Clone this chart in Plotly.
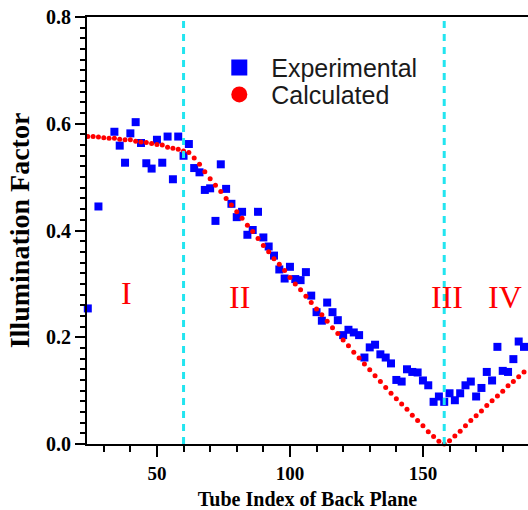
"""Illumination factor along the back plane: experiment vs calculation."""

import plotly.graph_objects as go

# experimental points (tube index, illumination factor)
exp_index = [24, 28, 34, 36, 38, 40, 42, 44, 46, 48, 50, 52, 54, 56, 58, 60,
             62, 64, 66, 68, 70, 72, 74, 76, 78, 80, 82, 84, 86, 88, 90, 92,
             94, 96, 98, 100, 102, 104, 106, 108, 110, 112, 114, 116, 118, 120,
             122, 124, 126, 128, 130, 132, 134, 136, 138, 140, 142, 144, 146,
             148, 150, 152, 154, 156, 158, 160, 162, 164, 166, 168, 170, 172,
             174, 176, 178, 180, 182, 184, 186, 188, 190]
exp_factor = [0.254, 0.445, 0.585, 0.559, 0.527, 0.582, 0.603, 0.564, 0.526,
              0.516, 0.570, 0.527, 0.576, 0.496, 0.576, 0.540, 0.562, 0.517,
              0.509, 0.476, 0.479, 0.418, 0.524, 0.478, 0.450, 0.425, 0.435,
              0.392, 0.401, 0.435, 0.387, 0.370, 0.353, 0.327, 0.310, 0.332,
              0.309, 0.307, 0.322, 0.278, 0.247, 0.231, 0.265, 0.247, 0.232,
              0.204, 0.214, 0.209, 0.204, 0.162, 0.181, 0.186, 0.168, 0.162,
              0.151, 0.120, 0.117, 0.140, 0.135, 0.134, 0.119, 0.110, 0.079,
              0.089, 0.079, 0.095, 0.082, 0.095, 0.110, 0.117, 0.089, 0.105,
              0.135, 0.119, 0.182, 0.137, 0.135, 0.159, 0.192, 0.182, 0.200]

# calculated curve
calc_index = [24, 26, 28, 30, 32, 34, 36, 38, 40, 42, 44, 46, 48, 50, 52, 54,
              56, 58, 60, 62, 64, 66, 68, 70, 72, 74, 76, 78, 80, 82, 84, 86,
              88, 90, 92, 94, 96, 98, 100, 102, 104, 106, 108, 110, 112, 114,
              116, 118, 120, 122, 124, 126, 128, 130, 132, 134, 136, 138, 140,
              142, 144, 146, 148, 150, 152, 154, 156, 158, 160, 162, 164, 166,
              168, 170, 172, 174, 176, 178, 180, 182, 184, 186, 188, 190]
calc_factor = [0.576, 0.576, 0.575, 0.574, 0.573, 0.573, 0.571, 0.570, 0.570,
               0.567, 0.566, 0.565, 0.563, 0.561, 0.560, 0.556, 0.554, 0.552,
               0.549, 0.546, 0.536, 0.524, 0.510, 0.497, 0.485, 0.473, 0.460,
               0.448, 0.435, 0.423, 0.410, 0.398, 0.385, 0.372, 0.360, 0.347,
               0.337, 0.325, 0.312, 0.300, 0.289, 0.277, 0.265, 0.253, 0.242,
               0.230, 0.218, 0.207, 0.195, 0.184, 0.172, 0.161, 0.150, 0.139,
               0.128, 0.117, 0.106, 0.095, 0.085, 0.075, 0.065, 0.054, 0.044,
               0.034, 0.023, 0.014, 0.005, 0.000, 0.006, 0.015, 0.024, 0.034,
               0.044, 0.053, 0.062, 0.072, 0.081, 0.090, 0.099, 0.109, 0.117,
               0.126, 0.135, 0.142]

region_bounds = [60, 158]
region_labels = ["I", "II", "III", "IV"]
region_label_x = [38.7, 81.2, 159, 180.8]
region_label_y = [0.283, 0.275, 0.275, 0.275]

SERIF = "Liberation Serif, Times New Roman, serif"
SANS = "Liberation Sans, Arial, sans-serif"
GAP = "\u00a0\u2009"

fig = go.Figure()

fig.add_trace(go.Scatter(
    x=exp_index, y=exp_factor, mode="markers", showlegend=False,
    marker=dict(symbol="square", size=8, color="#0000FF"), cliponaxis=False,
))
fig.add_trace(go.Scatter(
    x=calc_index, y=calc_factor, mode="markers", showlegend=False,
    marker=dict(symbol="circle", size=5, color="#FF0000"), cliponaxis=False,
))
# legend-only entries with bigger symbols, one legend box each so rows sit tight
fig.add_trace(go.Scatter(
    x=[None], y=[None], mode="markers", name=GAP + "Experimental",
    marker=dict(symbol="square", size=16, color="#0000FF"), legend="legend",
))
fig.add_trace(go.Scatter(
    x=[None], y=[None], mode="markers", name=GAP + "Calculated",
    marker=dict(symbol="circle", size=16, color="#FF0000"), legend="legend2",
))

for xb in region_bounds:
    fig.add_shape(type="line", xref="x", yref="y", x0=xb, x1=xb, y0=0, y1=0.8,
                  line=dict(color="#22E5F0", width=3, dash="7px,6px"))

for lab, lx, ly in zip(region_labels, region_label_x, region_label_y):
    fig.add_annotation(x=lx, y=ly, text=lab, showarrow=False,
                       font=dict(family=SERIF, size=32, color="#FF0000"))

legend_style = dict(xanchor="left", yanchor="middle", bgcolor="rgba(0,0,0,0)",
                    itemsizing="trace",
                    font=dict(family=SANS, size=25, color="#1a1a1a"))
fig.update_layout(
    width=528, height=510,
    paper_bgcolor="white", plot_bgcolor="white",
    margin=dict(l=87, r=0, t=17, b=66),
    font=dict(family=SERIF, color="black"),
    legend=dict(x=0.30, y=0.881, **legend_style),
    legend2=dict(x=0.30, y=0.818, **legend_style),
)
fig.update_xaxes(
    range=[23.7, 189.5], tick0=0, dtick=50, ticks="outside", ticklen=11,
    tickwidth=2, tickcolor="black", showline=True, linecolor="black",
    linewidth=2, mirror=True, showgrid=False, zeroline=False, automargin=False,
    tickfont=dict(family=SERIF, size=19, color="black"),
    tickprefix="<b>", ticksuffix="</b>",
    minor=dict(dtick=10, tick0=0, ticks="outside", ticklen=6, tickwidth=2,
               tickcolor="black", showgrid=False),
    title=dict(text="<b>Tube Index of Back Plane</b>", standoff=10,
               font=dict(family=SERIF, size=20, color="black")),
)
fig.update_yaxes(
    range=[0, 0.8], tick0=0, dtick=0.2, tickformat=".1f", ticks="outside",
    ticklen=10, tickwidth=2, tickcolor="black", showline=True,
    linecolor="black", linewidth=2, showgrid=False, zeroline=False,
    automargin=False,
    tickfont=dict(family=SERIF, size=20, color="black"),
    tickprefix="<b>", ticksuffix="</b>",
    minor=dict(dtick=0.02, tick0=0, ticks="outside", ticklen=5, tickwidth=2,
               tickcolor="black", showgrid=False),
    title=dict(text="<b>Illumination Factor</b>", standoff=8,
               font=dict(family=SERIF, size=28, color="black")),
)

fig.write_html("out.html", config={"displayModeBar": False},
               post_script="document.body.style.margin='0';")
